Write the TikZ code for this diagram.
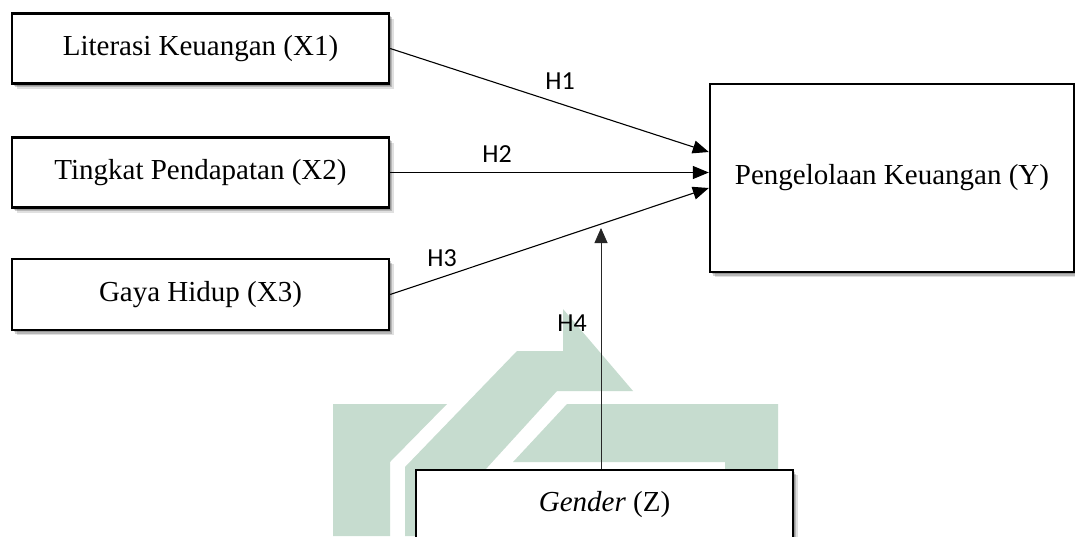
\documentclass[tikz,border=0pt]{standalone}
\usepackage{fontspec}
\setmainfont{Liberation Serif}
\newfontfamily\labelfont{Carlito}
\usetikzlibrary{arrows.meta,shadows,calc}

\definecolor{markgreen}{RGB}{198,220,207}

\tikzset{
  softshadow/.style={
    drop shadow={shadow xshift=1.5pt, shadow yshift=-2pt, opacity=0.18, fill=black},
    drop shadow={shadow xshift=3pt, shadow yshift=-3.5pt, opacity=0.18, fill=black},
    drop shadow={shadow xshift=4.5pt, shadow yshift=-5pt, opacity=0.12, fill=black}},
  varbox/.style={draw=black, line width=2.4pt, fill=white,
    minimum width=377pt, minimum height=70pt, inner sep=0pt,
    font=\fontsize{29}{33}\selectfont, softshadow},
  hyp/.style={font=\labelfont\fontsize{26}{30}\selectfont, inner sep=0pt},
  link/.style={line width=1.1pt, -{Triangle[length=16pt,width=13pt]}},
  modlink/.style={line width=0.8pt, draw=black!85, -{Triangle[length=15pt,width=13pt]}}
}

\begin{document}
\begin{tikzpicture}[x=1pt,y=-1pt]
\useasboundingbox[fill=white] (0,0) rectangle (1075,536);

% background emblem
\fill[markgreen] (333,404) -- (447,404) -- (390,462) -- (390,536) -- (333,536) -- cycle;
\fill[markgreen] (405,536) -- (405,467) -- (517,351) -- (563,351) -- (563,309)
  -- (633,391) -- (557,391) -- (485,470) -- (485,536) -- cycle;
\fill[markgreen] (513,462) -- (567,404) -- (778,404) -- (778,536) -- (725,536)
  -- (725,462) -- cycle;

% variables
\node[varbox] (x1) at (200.5,48.5) {Literasi Keuangan (X1)};
\node[varbox] (x2) at (200.5,172.5) {Tingkat Pendapatan (X2)};
\node[varbox, minimum height=71pt] (x3) at (200.5,294.5) {Gaya Hidup (X3)};
\node[varbox, minimum width=364pt, minimum height=188pt] (y) at (892,178) {Pengelolaan Keuangan (Y)};
\node[varbox] (z) at (604.5,505) {\textit{Gender} (Z)};

% arrow end points on the dependent variable
\coordinate (e1) at ($(y.west)+(0,-26)$);
\coordinate (e3) at ($(y.west)+(0,10)$);
\coordinate (h4tip) at (601,228);

% relations
\draw[link] (x1.east) -- (e1);
\draw[link] (x2.east) -- (x2.east -| y.west);
\draw[link] (x3.east) -- (e3);
\draw[modlink] (z.north -| h4tip) -- (h4tip);

% hypothesis labels
\node[hyp] (h1) at (560,81) {H1};
\node[hyp] (h2) at (497,154) {H2};
\node[hyp] (h3) at (442,258) {H3};
\node[hyp] (h4) at (572,323) {H4};
\end{tikzpicture}
\end{document}
